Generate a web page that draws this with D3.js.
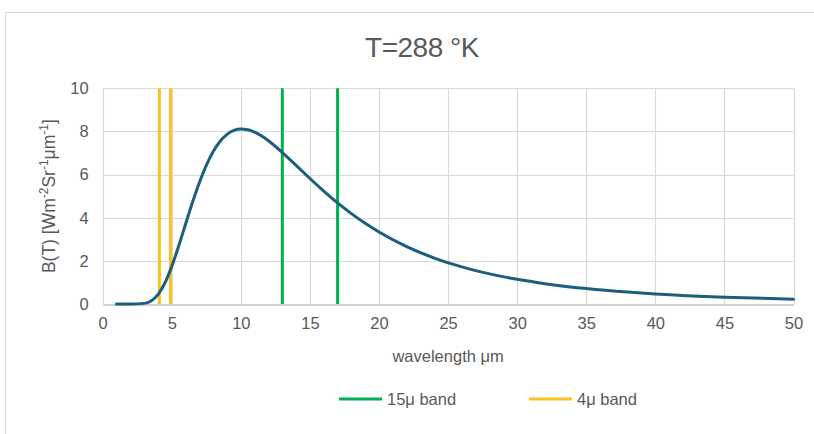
<!DOCTYPE html>
<html>
<head>
<meta charset="utf-8">
<script src="https://cdn.jsdelivr.net/npm/d3@7"></script>
<style>
  html, body { margin: 0; padding: 0; background: #fff; }
  svg { display: block; font-family: "Liberation Sans", Arial, sans-serif; }
</style>
</head>
<body>
<svg id="chart" width="814" height="434"></svg>
<script>
// Spectral radiance of a 288 K black body, B(λ) in W m^-2 sr^-1 µm^-1
const wavelengths = [1, 2, 3, 3.5, 4, 4.5, 5, 5.5, 6, 6.5, 7, 7.5, 8, 8.5, 9, 9.5, 10, 10.5, 11, 12, 13, 14, 15, 16, 17, 18, 19, 20, 22, 24, 26, 28, 30, 32, 35, 38, 40, 45, 50];
const radiance    = [0, 0.0001, 0.029, 0.144, 0.437, 0.973, 1.744, 2.688, 3.709, 4.715, 5.637, 6.432, 7.066, 7.544, 7.863, 8.046, 8.11, 8.08, 7.963, 7.566, 7.022, 6.43, 5.818, 5.236, 4.686, 4.189, 3.738, 3.336, 2.66, 2.131, 1.719, 1.397, 1.143, 0.943, 0.716, 0.552, 0.468, 0.317, 0.222];

// absorption band edges (µm)
const band15 = [13, 17];
const band4  = [4.1, 4.9];

const xTicks = [0, 5, 10, 15, 20, 25, 30, 35, 40, 45, 50];
const yTicks = [0, 2, 4, 6, 8, 10];

const legendItems = [
  { label: "15\u03bc band", color: "#00b050" },
  { label: "4\u03bc band",  color: "#f9c21d" }
];

const svg = d3.select("#chart");
const textColor = "#595959";
const gridColor = "#d9d9d9";

// outer chart frame
svg.append("rect")
  .attr("x", 5.5).attr("y", 12.5)
  .attr("width", 840).attr("height", 440)
  .attr("fill", "none").attr("stroke", "#d9d9d9").attr("stroke-width", 1);

const x = d3.scaleLinear().domain([0, 50]).range([102.7, 793.5]);
const y = d3.scaleLinear().domain([0, 10]).range([304, 88.3]);

// title
svg.append("text")
  .attr("x", 422).attr("y", 57)
  .attr("text-anchor", "middle")
  .attr("font-size", 28)
  .attr("letter-spacing", -0.5)
  .attr("fill", textColor)
  .text("T=288 \u00b0K");

// horizontal grid
svg.append("g")
  .selectAll("line")
  .data(yTicks.filter(d => d > 0))
  .join("line")
  .attr("x1", x(0)).attr("x2", x(50))
  .attr("y1", d => Math.round(y(d)) + 0.5).attr("y2", d => Math.round(y(d)) + 0.5)
  .attr("stroke", gridColor).attr("stroke-width", 1.2);

// vertical grid
svg.append("g")
  .selectAll("line")
  .data(xTicks)
  .join("line")
  .attr("x1", d => Math.round(x(d)) + 0.5).attr("x2", d => Math.round(x(d)) + 0.5)
  .attr("y1", y(10)).attr("y2", y(0))
  .attr("stroke", gridColor).attr("stroke-width", 1.2);

// x axis
const xAxis = svg.append("g")
  .attr("transform", `translate(0,${Math.round(y(0)) + 0.5})`)
  .call(d3.axisBottom(x).tickValues(xTicks).tickSize(0).tickPadding(13));
xAxis.select(".domain").attr("stroke", "#bfbfbf").attr("stroke-width", 1.3);
xAxis.selectAll("text")
  .attr("font-size", 16.5).attr("fill", textColor)
  .attr("font-family", "Liberation Sans, Arial, sans-serif");

// y axis
const yAxis = svg.append("g")
  .attr("transform", `translate(${x(0)},0)`)
  .call(d3.axisLeft(y).tickValues(yTicks).tickSize(0).tickPadding(14));
yAxis.select(".domain").remove();
yAxis.selectAll("text")
  .attr("font-size", 16.5).attr("fill", textColor)
  .attr("font-family", "Liberation Sans, Arial, sans-serif");

// axis titles
svg.append("text")
  .attr("x", (x(0) + x(50)) / 2).attr("y", 362)
  .attr("text-anchor", "middle")
  .attr("font-size", 16.5).attr("fill", textColor)
  .text("wavelength \u03bcm");

const yTitle = svg.append("text")
  .attr("transform", `translate(55,${(y(0) + y(10)) / 2}) rotate(-90)`)
  .attr("text-anchor", "middle")
  .attr("font-size", 17.5).attr("fill", textColor);
yTitle.append("tspan").text("B(T) [Wm");
yTitle.append("tspan").attr("dy", -7).attr("font-size", 12).text("-2");
yTitle.append("tspan").attr("dy", 7).text("Sr");
yTitle.append("tspan").attr("dy", -7).attr("font-size", 12).text("-1");
yTitle.append("tspan").attr("dy", 7).text("\u03bcm");
yTitle.append("tspan").attr("dy", -7).attr("font-size", 12).text("-1");
yTitle.append("tspan").attr("dy", 7).text("]");

// band markers
const bands = [
  ...band15.map(v => ({ v, color: legendItems[0].color })),
  ...band4.map(v => ({ v, color: legendItems[1].color }))
];
svg.append("g")
  .selectAll("line")
  .data(bands)
  .join("line")
  .attr("x1", d => x(d.v)).attr("x2", d => x(d.v))
  .attr("y1", y(10)).attr("y2", y(0))
  .attr("stroke", d => d.color).attr("stroke-width", 3);

// radiance curve
const line = d3.line()
  .x((d, i) => x(wavelengths[i]))
  .y(d => y(d))
  .curve(d3.curveMonotoneX);
svg.append("path")
  .datum(radiance)
  .attr("d", line)
  .attr("fill", "none")
  .attr("stroke", "#1b5e7e")
  .attr("stroke-width", 3)
  .attr("stroke-linejoin", "round")
  .attr("stroke-linecap", "round");

// legend
const legendX = [339, 529];
const lg = svg.append("g")
  .selectAll("g")
  .data(legendItems)
  .join("g")
  .attr("transform", (d, i) => `translate(${legendX[i]},399)`);
lg.append("line")
  .attr("x1", 0).attr("x2", 43)
  .attr("stroke", d => d.color).attr("stroke-width", 3);
lg.append("text")
  .attr("x", 48).attr("y", 6)
  .attr("font-size", 16.5).attr("fill", textColor)
  .text(d => d.label);
</script>
</body>
</html>
